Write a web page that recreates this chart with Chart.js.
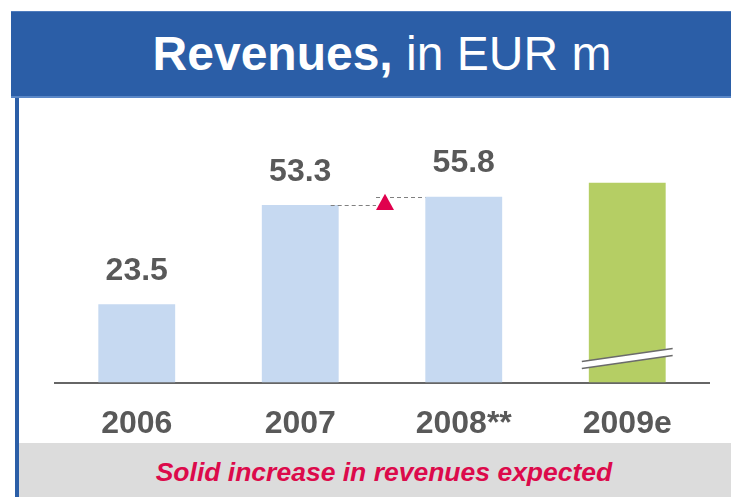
<!DOCTYPE html>
<html>
<head>
<meta charset="utf-8">
<script src="https://cdn.jsdelivr.net/npm/chart.js@4.4.1/dist/chart.umd.min.js"></script>
<style>
  body { margin: 0; width: 731px; height: 497px; overflow: hidden; background: #fff; font-family: "Liberation Sans", Arial, sans-serif; }
  #header { position: absolute; left: 11px; top: 11px; width: 720px; height: 87px; box-sizing: border-box;
            background: #2B5EA7; border-top: 1px solid #4f7cbd; border-bottom: 2px solid #5a87c7;
            color: #fff; font-size: 48px; line-height: 84px; text-align: center; padding-left: 22px; }
  #leftbar { position: absolute; left: 15px; top: 98px; width: 4px; height: 399px; background: #2B5EA7; }
  #footer { position: absolute; left: 19px; top: 443px; width: 712px; height: 54px; background: #DCDCDC;
            color: #DC0A4B; font-size: 26.5px; font-weight: bold; font-style: italic; line-height: 58px;
            text-align: center; padding-left: 18px; box-sizing: border-box; }
  #wrap { position: absolute; left: 19px; top: 98px; width: 712px; height: 362px; }
</style>
</head>
<body>
<div id="header"><b>Revenues,</b> in EUR m</div>
<div id="leftbar"></div>
<div id="wrap"><canvas id="chart"></canvas></div>
<div id="footer">Solid increase in revenues expected</div>
<script>
const categories = ['2006', '2007', '2008**', '2009e'];
const revenues = [23.5, 53.3, 55.8, 60.0];
const valueLabels = ['23.5', '53.3', '55.8', ''];
const isEstimate = [false, false, false, true];

const FONT = '"Liberation Sans", Arial, sans-serif';
const TEXT_GREY = '#595959';

// labels, growth arrow 2007->2008 and the axis break on the estimate bar
const decorations = {
  id: 'decorations',
  afterDatasetsDraw(chart) {
    const ctx = chart.ctx;
    const y = chart.scales.y;
    const bars = chart.getDatasetMeta(0).data;
    ctx.save();

    ctx.font = 'bold 32px ' + FONT;
    ctx.fillStyle = TEXT_GREY;
    ctx.textAlign = 'center';
    ctx.textBaseline = 'middle';
    bars.forEach((bar, i) => {
      if (valueLabels[i]) ctx.fillText(valueLabels[i], bar.x, bar.y - 33);
    });

    const a = bars[1], b = bars[2];
    const aRight = a.x + a.width / 2, bLeft = b.x - b.width / 2;
    const tx = (aRight + bLeft) / 2 + 3;
    ctx.strokeStyle = '#808080';
    ctx.lineWidth = 1;
    ctx.setLineDash([4, 3]);
    ctx.beginPath();
    ctx.moveTo(aRight - 8, Math.round(a.y) + 0.5);
    ctx.lineTo(tx - 9, Math.round(a.y) + 0.5);
    ctx.moveTo(tx - 9, Math.round(b.y) + 0.5);
    ctx.lineTo(bLeft, Math.round(b.y) + 0.5);
    ctx.stroke();
    ctx.setLineDash([]);
    ctx.fillStyle = '#E0004D';
    ctx.beginPath();
    ctx.moveTo(tx, b.y - 3);
    ctx.lineTo(tx + 9, a.y + 5);
    ctx.lineTo(tx - 9, a.y + 5);
    ctx.closePath();
    ctx.fill();

    bars.forEach((bar, i) => {
      if (!isEstimate[i]) return;
      const x0 = bar.x - bar.width / 2 - 7, x1 = bar.x + bar.width / 2 + 7;
      const yc = y.getPixelForValue(7.2);
      ctx.fillStyle = '#fff';
      ctx.beginPath();
      ctx.moveTo(x0, yc + 3); ctx.lineTo(x1, yc - 10);
      ctx.lineTo(x1, yc - 3); ctx.lineTo(x0, yc + 10);
      ctx.closePath();
      ctx.fill();
      ctx.strokeStyle = '#6b6b6b';
      ctx.lineWidth = 1.5;
      ctx.beginPath();
      ctx.moveTo(x0, yc + 3); ctx.lineTo(x1, yc - 10);
      ctx.moveTo(x0, yc + 10); ctx.lineTo(x1, yc - 3);
      ctx.stroke();
    });
    ctx.restore();
  }
};

new Chart(document.getElementById('chart'), {
  type: 'bar',
  data: {
    labels: categories,
    datasets: [{
      data: revenues,
      backgroundColor: ctx => isEstimate[ctx.dataIndex] ? '#B5CE64' : '#C6D9F1',
      categoryPercentage: 1,
      barPercentage: 0.47
    }]
  },
  options: {
    responsive: true,
    maintainAspectRatio: false,
    animation: false,
    layout: { padding: { left: 36, right: 22, top: 18, bottom: 3 } },
    plugins: { legend: { display: false }, tooltip: { enabled: false } },
    scales: {
      x: {
        z: 1,
        grid: { display: false },
        border: { color: '#666', width: 2 },
        ticks: { color: TEXT_GREY, font: { family: FONT, size: 32, weight: 'bold' }, padding: 14, maxRotation: 0, autoSkip: false }
      },
      y: { display: false, min: 0, max: 80 }
    }
  },
  plugins: [decorations]
});
</script>
</body>
</html>
